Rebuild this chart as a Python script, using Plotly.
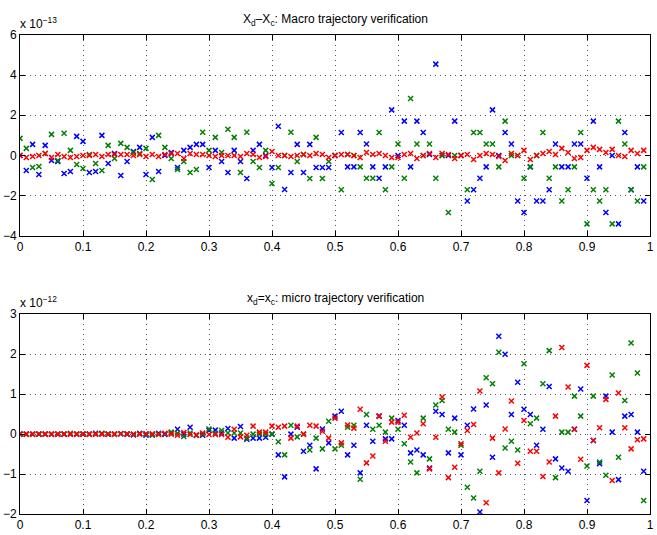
import numpy as np
import plotly.graph_objects as go
from plotly.subplots import make_subplots

# x positions (0.00 ... 0.99)
x_vals = np.round(np.arange(100) * 0.01, 2)

# ---- Top panel: X_d - X_c (units of 1e-13) ----
top_blue = [0, -0.75, 0.55, -0.95, 0.5, -0.25, -0.3, -0.9, -0.8, 0.95,
            0.7, -0.85, -0.8, 1.0, -0.4, 0.1, -1.0, -0.3, 0.2, 0.4,
            -0.95, 0.9, -0.8, 0.0, 0.15, -0.6, 0.25, 0.4, 0.55, 0.55,
            -0.6, 0.25, -0.3, -0.85, 0.25, -0.3, -1.15, 0.25, 0.55, 0.0,
            -0.6, 1.45, -1.7, -0.85, 0.55, -0.85, 0.55, -0.6, -0.6, -0.6,
            0.0, 1.14, -0.57, -0.57, 1.14, 0.57, -0.57, -1.14, -0.57, 2.27,
            0.0, 1.71, -0.57, 1.71, 1.14, 0.05, 4.55, 0.0, 0.0, 1.71,
            0.0, -2.27, -1.71, -1.14, -0.57, 2.27, 0.0, 1.14, 0.57, -2.27,
            -2.84, -0.57, -2.27, -2.27, -1.71, 0.57, -0.57, -0.57, 0.57, 0.57,
            -1.14, 1.71, -0.57, -2.84, 0.0, -3.41, 1.14, -1.71, -0.57, -2.27]
top_green = [0.85, 0.35, -0.6, -0.55, 0.1, 1.05, -0.25, 1.1, 0.25, -0.45,
             -0.65, 0.05, -0.4, -0.75, 0.5, -0.15, 0.6, 0.4, 0.15, 0.1,
             0.35, -1.2, 1.0, 0.4, -0.15, -0.7, -0.3, -0.85, -0.7, 1.15,
             0.25, 0.9, 0.15, 1.3, 0.9, -0.85, 1.15, -0.3, -0.6, 0.25,
             -1.4, -0.6, 0.0, 1.15, -0.3, 0.05, -1.15, 0.9, -1.15, -0.3,
             0.0, -1.71, 0.05, 0.0, -0.57, -1.14, -1.14, 1.14, -1.71, -0.57,
             0.57, -1.14, 2.84, 0.57, 0.0, 0.57, -1.14, 0.0, -2.84, 0.0,
             0.0, -1.71, 1.14, 1.14, 0.57, 0.57, -0.57, 1.71, 0.0, 0.0,
             -1.14, -0.57, 0.0, 1.14, -1.14, -0.57, -2.27, -1.71, -0.57, 1.14,
             -3.41, -1.71, -2.27, -1.71, -3.41, 1.71, 0.57, -1.71, -2.27, -0.57]
top_red = [0, -0.1, -0.05, 0, 0.1, -0.1, 0.05, -0.05, -0.1, -0.05,
           0, 0, 0.05, -0.05, 0.05, 0.05, 0.05, 0.05, 0, 0.05,
           -0.05, 0.05, -0.05, 0.05, 0.1, 0.1, -0.15, 0.1, 0.05, 0.05,
           0, -0.05, 0, 0, 0, -0.05, 0.1, 0.05, -0.1, -0.05,
           0.2, 0, 0, -0.05, 0, 0.05, 0, 0.1, 0.05, -0.1,
           0, 0.05, 0.05, 0, -0.1, 0.15, 0.05, 0.1, 0, -0.1,
           -0.1, 0.05, 0.1, -0.15, 0, 0.1, -0.1, 0.1, 0.05, -0.15,
           0, 0.05, -0.2, 0, 0.1, 0.05, -0.05, -0.25, 0.1, 0,
           0.25, -0.2, 0, 0.1, 0.2, 0.05, 0.35, 0.15, -0.15, -0.1,
           0.25, 0.4, 0.3, 0.15, 0.3, 0, -0.05, 0.25, 0.1, 0.25]

# ---- Bottom panel: x_d - x_c (units of 1e-12) ----
bot_blue = [0, 0, 0, 0, 0, 0, 0, 0, 0, 0,
            0, 0, 0.02, 0.01, 0, 0, 0.01, 0, -0.02, 0.02,
            -0.03, -0.02, 0.02, -0.01, 0.03, 0.12, 0.0, 0.17, -0.03, -0.03,
            0.09, 0.1, 0.03, 0.14, -0.1, 0.19, -0.13, -0.1, -0.1, -0.08,
            0.0, -0.52, -1.07, 0.0, 0.17, -0.43, -0.28, -0.87, 0.13, -0.22,
            0.45, 0.57, -0.52, -0.28, -0.97, 0.22, -0.18, 0.45, -0.12, -0.12,
            0.34, 0.22, -0.47, -0.4, -0.52, -0.85, 0.57, 0.49, -0.47, 0.4,
            -0.52, 0.22, 0.63, -1.95, 0.73, -0.58, 2.45, 2.0, 0.49, 1.3,
            0.62, 0.49, -0.28, 0.12, 1.19, -0.62, -0.85, -0.93, 0.12, 1.13,
            -1.66, -0.16, -0.74, 0.95, 0.05, -1.14, 0.45, 0.49, 0.05, -0.93]
bot_green = [0, 0, 0, 0, 0, 0, 0, 0, 0.02, 0,
             0, 0, 0, 0.02, 0, 0, 0.01, 0.01, 0, 0.01,
             0, -0.02, 0, 0.01, 0.05, 0.02, -0.06, 0.03, -0.03, 0.0,
             0.13, 0.02, 0.09, 0.03, 0.03, 0.03, -0.1, 0.0, 0.0, 0.0,
             0.0, -0.19, -0.52, 0.22, -0.07, 0.0, -0.4, -0.1, -0.37, 0.32,
             -0.37, -0.28, 0.17, 0.22, -1.13, 0.49, 0.12, 0.22, 0.05, 0.4,
             0.12, -0.24, -0.7, -0.97, 0.4, -0.62, 0.73, 0.84, 0.12, 0.05,
             -0.28, -1.33, -1.6, -0.93, 1.41, 1.26, 2.05, -0.35, -0.18, -0.4,
             1.76, 0.26, 0.4, 1.26, 2.09, -1.09, 0.05, 0.05, 0.95, 0.45,
             -0.8, 0.95, -0.7, -1.03, 1.48, -0.58, 0.84, 2.28, 1.53, -1.66]
bot_red = [0, 0, 0, 0, 0, 0, 0, 0, 0, 0,
           0, 0, 0, 0, 0, 0, 0.01, 0, -0.01, 0,
           0.01, 0.01, -0.01, 0.02, 0.0, -0.03, 0.04, -0.01, -0.02, 0.03,
           -0.01, -0.01, -0.01, -0.08, 0.12, -0.07, -0.03, 0.2, 0.05, 0.05,
           0.2, 0.17, 0.2, -0.1, 0.2, 0.0, 0.22, 0.2, 0.07, -0.1,
           0.4, -0.22, 0.23, 0.15, 0.62, -0.72, -0.55, 0.45, -0.18, 0.3,
           0.3, 0.47, -0.08, 0.03, 0.26, -0.87, -0.08, 0.93, -1.09, -0.83,
           -0.24, 0.09, 0.24, 1.08, -1.72, -0.1, -0.97, 0.13, 0.83, -0.73,
           0.34, -0.43, -0.43, -1.06, -0.7, 0.45, 2.17, 1.18, 0.12, -0.63,
           1.72, -0.16, 0.16, 0.87, -1.16, 1.03, 0.16, -0.37, -0.14, -0.12]

x_ticks = [0, 0.1, 0.2, 0.3, 0.4, 0.5, 0.6, 0.7, 0.8, 0.9, 1]
x_ticktext = ["0", "0.1", "0.2", "0.3", "0.4", "0.5", "0.6", "0.7", "0.8", "0.9", "1"]
top_yticks = [-4, -2, 0, 2, 4, 6]
bot_yticks = [-2, -1, 0, 1, 2, 3]

colors = {"blue": "#0000ff", "green": "#008000", "red": "#ff0000"}
FONT = "Liberation Sans, Arial, Helvetica, sans-serif"

fig = make_subplots(rows=2, cols=1, vertical_spacing=0.0)

def add_series(yvals, color, row):
    fig.add_trace(go.Scatter(
        x=x_vals, y=yvals, mode="markers",
        marker=dict(symbol="x-thin", size=5, color=color,
                    line=dict(color=color, width=1.5)),
        showlegend=False, hoverinfo="x+y"), row=row, col=1)

add_series(top_blue, colors["blue"], 1)
add_series(top_green, colors["green"], 1)
add_series(top_red, colors["red"], 1)
add_series(bot_blue, colors["blue"], 2)
add_series(bot_green, colors["green"], 2)
add_series(bot_red, colors["red"], 2)

axis_common = dict(showline=True, linecolor="black", linewidth=1, mirror="ticks",
                   ticks="inside", ticklen=5, tickcolor="black", tickwidth=1,
                   showgrid=True, gridcolor="#555555", griddash="1px,4px", gridwidth=1,
                   zeroline=False, tickfont=dict(family=FONT, size=12, color="black"))

top_dom = [0.581, 1.0]
bot_dom = [0.0, 0.417]

fig.update_xaxes(range=[0, 1], tickvals=x_ticks, ticktext=x_ticktext, **axis_common)
fig.update_yaxes(**axis_common)
fig.update_yaxes(range=[-4, 6], tickvals=top_yticks, domain=top_dom, row=1, col=1)
fig.update_yaxes(range=[-2, 3], tickvals=bot_yticks, domain=bot_dom, row=2, col=1)

annots = [
    dict(text="X<sub>d</sub>–X<sub>c</sub>: Macro trajectory verification",
         x=0.5, y=top_dom[1], xref="paper", yref="paper", xanchor="center",
         yanchor="bottom", yshift=5, showarrow=False, font=dict(family=FONT, size=12)),
    dict(text="x<sub>d</sub>=x<sub>c</sub>: micro trajectory verification",
         x=0.5, y=bot_dom[1], xref="paper", yref="paper", xanchor="center",
         yanchor="bottom", yshift=5, showarrow=False, font=dict(family=FONT, size=12)),
    dict(text="x 10<sup>−13</sup>", x=0, y=top_dom[1], xref="paper", yref="paper",
         xanchor="left", yanchor="bottom", yshift=2, xshift=-2, showarrow=False,
         font=dict(family=FONT, size=12)),
    dict(text="x 10<sup>−12</sup>", x=0, y=bot_dom[1], xref="paper", yref="paper",
         xanchor="left", yanchor="bottom", yshift=2, xshift=-2, showarrow=False,
         font=dict(family=FONT, size=12)),
]

fig.update_layout(
    width=657, height=535,
    margin=dict(l=20, r=3, t=35, b=18),
    paper_bgcolor="white", plot_bgcolor="white",
    font=dict(family=FONT, size=12, color="black"),
    annotations=annots,
)

fig.write_html("out.html")
